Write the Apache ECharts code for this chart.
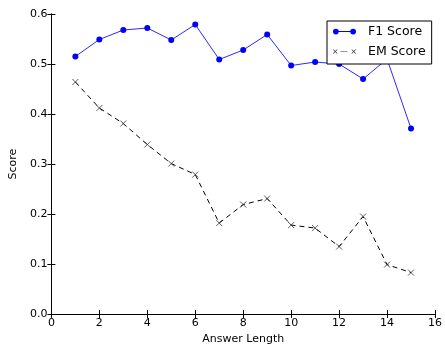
<!DOCTYPE html>
<html>
<head>
<meta charset="utf-8">
<script src="https://cdn.jsdelivr.net/npm/echarts@6/dist/echarts.min.js"></script>
<style>html,body{margin:0;padding:0;background:#fff}#c{width:445px;height:350px}</style>
</head>
<body>
<div id="c"></div>
<script>
var answerLength = [1, 2, 3, 4, 5, 6, 7, 8, 9, 10, 11, 12, 13, 14, 15];
var f1Score = [0.515, 0.549, 0.568, 0.572, 0.548, 0.579, 0.509, 0.528, 0.559, 0.497, 0.504, 0.500, 0.470, 0.510, 0.371];
var emScore = [0.464, 0.412, 0.381, 0.339, 0.301, 0.279, 0.182, 0.219, 0.231, 0.178, 0.172, 0.135, 0.195, 0.099, 0.083];
var xTicks = [0, 2, 4, 6, 8, 10, 12, 14, 16];
var yTicks = [0.0, 0.1, 0.2, 0.3, 0.4, 0.5, 0.6];

var FONT = 'DejaVu Sans';

function circ(cx, cy, r) {
  return 'M' + (cx - r) + ',' + cy + 'A' + r + ',' + r + ' 0 1,1 ' + (cx + r) + ',' + cy +
         'A' + r + ',' + r + ' 0 1,1 ' + (cx - r) + ',' + cy + 'Z';
}
function xmark(cx, cy, h, t) {
  return 'M' + (cx - h + t) + ',' + (cy - h) + 'L' + (cx + h) + ',' + (cy + h - t) + 'L' + (cx + h - t) + ',' + (cy + h) + 'L' + (cx - h) + ',' + (cy - h + t) + 'Z' +
         'M' + (cx + h - t) + ',' + (cy - h) + 'L' + (cx + h) + ',' + (cy - h + t) + 'L' + (cx - h + t) + ',' + (cy + h) + 'L' + (cx - h) + ',' + (cy + h - t) + 'Z';
}
var f1Icon = 'path://' + circ(3, 3, 3) + 'M5,2.5L19,2.5L19,3.5L5,3.5Z' + circ(21, 3, 3);
var emIcon = 'path://' + xmark(3, 3, 2.2, 0.45) + 'M8,2.65L15,2.65L15,3.35L8,3.35Z' + xmark(21, 3, 2.2, 0.45);

var xMin = xTicks[0], xMax = xTicks[xTicks.length - 1], xInt = xTicks[1] - xTicks[0];
var yMin = yTicks[0], yMax = yTicks[yTicks.length - 1], yInt = 0.1;

function pairs(xs, ys) { return xs.map(function (x, i) { return [x, ys[i]]; }); }

var axisLine = { show: true, lineStyle: { color: '#000', width: 1 } };
var tick = { show: true, inside: true, length: 4, lineStyle: { color: '#000', width: 1 } };

var chart = echarts.init(document.getElementById('c'), null, { renderer: 'canvas' });
chart.setOption({
  animation: false,
  backgroundColor: '#fff',
  textStyle: { fontFamily: FONT },
  grid: { left: 45, right: 7, top: 14, bottom: 32, containLabel: false },
  legend: {
    orient: 'vertical',
    left: 327, top: 21,
    padding: [4, 6, 6, 6],
    itemGap: 7,
    itemWidth: 23, itemHeight: 6,
    backgroundColor: '#fff',
    borderColor: '#000', borderWidth: 1, borderRadius: 0,
    z: 10,
    textStyle: { fontFamily: FONT, fontSize: 12.5, color: '#000', padding: [0, 0, 0, 7] },
    data: [
      { name: 'F1 Score', icon: f1Icon, itemStyle: { color: '#0000ff', borderWidth: 0 } },
      { name: 'EM Score', icon: emIcon, itemStyle: { color: '#333', borderWidth: 0 } }
    ]
  },
  xAxis: [{
    type: 'value', min: xMin, max: xMax, interval: xInt,
    name: 'Answer Length', nameLocation: 'middle', nameGap: 19,
    nameTextStyle: { fontFamily: FONT, fontSize: 11, color: '#000' },
    axisLine: axisLine, axisTick: tick, splitLine: { show: false },
    axisLabel: { fontFamily: FONT, fontSize: 11, color: '#000', margin: 4 }
  }, {
    type: 'value', min: xMin, max: xMax, interval: xInt, position: 'top',
    axisLine: axisLine, axisTick: tick, splitLine: { show: false },
    axisLabel: { show: false }
  }],
  yAxis: [{
    type: 'value', min: yMin, max: yMax, interval: yInt,
    name: 'Score', nameLocation: 'middle', nameGap: 27,
    nameTextStyle: { fontFamily: FONT, fontSize: 11, color: '#000' },
    axisLine: axisLine, axisTick: tick, splitLine: { show: false },
    axisLabel: { fontFamily: FONT, fontSize: 11, color: '#000', margin: 4,
      formatter: function (v) { return v.toFixed(1); } }
  }, {
    type: 'value', min: yMin, max: yMax, interval: yInt, position: 'right',
    axisLine: axisLine, axisTick: tick, splitLine: { show: false },
    axisLabel: { show: false }
  }],
  series: [{
    name: 'F1 Score', type: 'line',
    data: pairs(answerLength, f1Score),
    symbol: 'circle', symbolSize: 6,
    itemStyle: { color: '#0000ff' },
    lineStyle: { color: '#2a2aff', width: 1 },
    z: 3
  }, {
    name: 'EM Score', type: 'line',
    data: pairs(answerLength, emScore),
    symbol: 'path://M0,0L10,10M10,0L0,10', symbolSize: 6,
    itemStyle: { color: 'rgba(0,0,0,0)', borderColor: '#333', borderWidth: 0.8 },
    lineStyle: { color: '#000', width: 1, type: [5, 4] },
    z: 2
  }]
});
</script>
</body>
</html>
